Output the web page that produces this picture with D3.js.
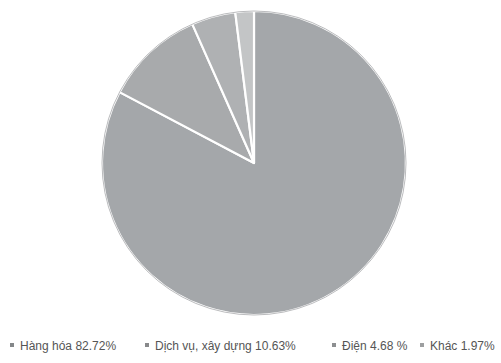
<!DOCTYPE html>
<html>
<head>
<meta charset="utf-8">
<script src="https://cdn.jsdelivr.net/npm/d3@7"></script>
<style>
  html, body { margin: 0; padding: 0; background: #fff; }
  svg { display: block; }
</style>
</head>
<body>
<svg id="chart" width="501" height="363"></svg>
<script>
// Cơ cấu theo lĩnh vực (%)
const categories = ["Hàng hóa", "Dịch vụ, xây dựng", "Điện", "Khác"];
const values = [82.72, 10.63, 4.68, 1.97];
const legendLabels = ["Hàng hóa 82.72%", "Dịch vụ, xây dựng 10.63%", "Điện 4.68 %", "Khác 1.97%"];
const colors = ["#a4a7aa", "#a8aaac", "#afb1b3", "#c3c5c6"];

const svg = d3.select("#chart");
const cx = 254, cy = 163, r = 152;

const data = categories.map((c, i) => ({ name: c, value: values[i], color: colors[i], label: legendLabels[i] }));

const pie = d3.pie().sort(null).value(d => d.value);
const arc = d3.arc().innerRadius(0).outerRadius(r);

const g = svg.append("g").attr("transform", `translate(${cx},${cy})`);
g.selectAll("path.slice")
  .data(pie(data))
  .join("path")
  .attr("class", "slice")
  .attr("d", arc)
  .attr("fill", d => d.data.color)
  .attr("stroke", "#ffffff")
  .attr("stroke-width", 2.2)
  .attr("stroke-linejoin", "round");

// faint outer rim
g.append("circle")
  .attr("r", r)
  .attr("fill", "none")
  .attr("stroke", "#6f7275")
  .attr("stroke-width", 0.8)
  .attr("opacity", 0.6);

// Legend
const legendX = [12, 147, 334, 422];
const legend = svg.append("g").attr("font-family", "'Liberation Sans Narrow', 'Liberation Sans', Arial, sans-serif")
  .attr("font-size", 12).attr("fill", "#555");
const items = legend.selectAll("g.item").data(data).join("g")
  .attr("class", "item")
  .attr("transform", (d, i) => `translate(${legendX[i]},346)`);
items.append("rect")
  .attr("x", -2).attr("y", -3).attr("width", 4).attr("height", 4)
  .attr("fill", d => d3.color(d.color).darker(0.6));
items.append("text")
  .attr("x", 8).attr("y", 4)
  .text(d => d.label);
</script>
</body>
</html>
